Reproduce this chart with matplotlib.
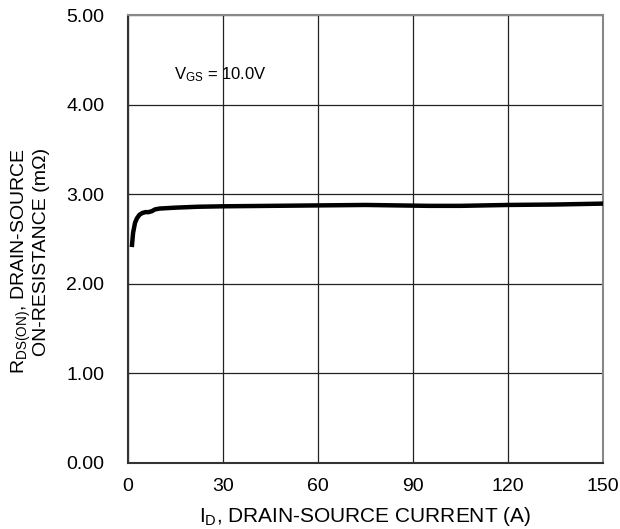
import matplotlib
matplotlib.use("Agg")
import matplotlib.pyplot as plt

plt.rcParams["font.family"] = ["Liberation Sans", "DejaVu Sans"]
plt.rcParams["mathtext.fontset"] = "custom"
plt.rcParams["mathtext.rm"] = "Liberation Sans"
plt.rcParams["mathtext.it"] = "Liberation Sans"

# drain current (A) vs on-resistance (mOhm)
current = [1.2, 1.6, 2.2, 2.8, 3.6, 4.5, 5.5, 6.5, 7.5, 8.5, 10, 15, 22, 30, 45, 60, 75, 85, 95, 105, 120, 135, 150]
rdson = [2.41, 2.57, 2.68, 2.73, 2.77, 2.79, 2.80, 2.80, 2.81, 2.83, 2.84, 2.85, 2.86, 2.865, 2.87, 2.875, 2.88, 2.875, 2.87, 2.87, 2.88, 2.885, 2.895]

xticks = [0, 30, 60, 90, 120, 150]
yticks = [0, 1, 2, 3, 4, 5]
ytick_labels = ["0.00", "1.00", "2.00", "3.00", "4.00", "5.00"]

fig = plt.figure(figsize=(6.2, 5.29), dpi=100)
ax = fig.add_axes([0.2065, 0.1248, 0.7661, 0.8468])

ax.plot(current, rdson, color="black", lw=3.2, solid_capstyle="butt", zorder=3)

ax.set_xlim(0, 150)
ax.set_ylim(0, 5)
ax.set_xticks(xticks)
ax.set_yticks(yticks)
ax.set_yticklabels(ytick_labels)
ax.tick_params(length=0, labelsize=14)
ax.tick_params(axis="x", pad=11)
ax.tick_params(axis="y", pad=17)
ax.grid(True, color="#222222", lw=0.9)

for s in ["left", "bottom"]:
    ax.spines[s].set_color("#333333")
    ax.spines[s].set_linewidth(1.5)
for s in ["top", "right"]:
    ax.spines[s].set_color("#888888")
    ax.spines[s].set_linewidth(1.5)

ax.set_xlabel(r"I$_\mathregular{D}$, DRAIN-SOURCE CURRENT (A)", fontsize=15, labelpad=7)
fig.text(0.048, 0.507, "R$_\\mathregular{DS(ON)}$, DRAIN-SOURCE\nON-RESISTANCE (m\u03a9)",
         fontsize=14, rotation=90, ha="center", va="center", multialignment="right",
         linespacing=0.95)

ax.text(14.5, 4.33, r"V$_\mathregular{GS}$ = 10.0V", fontsize=12, va="center", ha="left")

fig.savefig("out.png", dpi=100)
